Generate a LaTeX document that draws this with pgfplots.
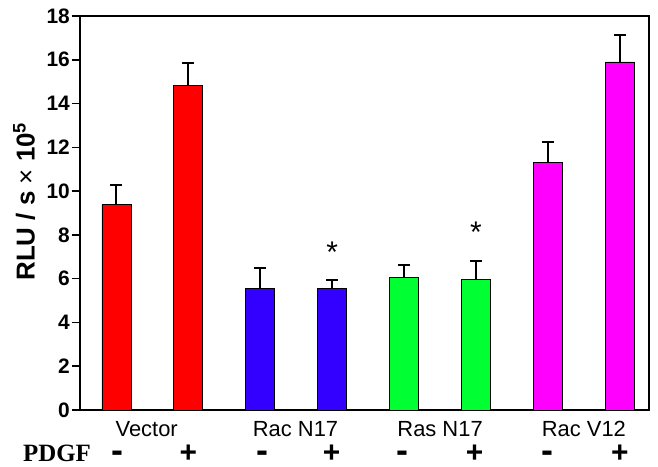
\documentclass[border=0pt]{standalone}
\usepackage{fontspec}
\setmainfont{Liberation Sans}
\newfontfamily\timesfont{Liberation Serif}
\usepackage{graphicx}
\usepackage{pgfplots}
\pgfplotsset{compat=1.18}
\definecolor{cred}{HTML}{FF0000}
\definecolor{cblue}{HTML}{3300FF}
\definecolor{cgreen}{HTML}{00FF33}
\definecolor{cmag}{HTML}{FF00FF}
\tikzset{plussign/.style={font=\bfseries\fontsize{20}{20}\selectfont, inner sep=0pt, yshift=-44bp},
         minussign/.style={font=\bfseries\fontsize{20}{20}\selectfont, inner sep=0pt, yshift=-47bp}}
\newcommand{\plussign}{\scalebox{1.5}{+}}
\newcommand{\minussign}{\scalebox{1.8}{-}}
\begin{document}
\begin{tikzpicture}
\path[use as bounding box] (-80bp,-57bp) rectangle (578bp,410bp);
\begin{axis}[
  scale only axis, width=569bp, height=394bp,
  xmin=-0.507, xmax=7.405, ymin=0, ymax=18,
  ytick={0,2,...,18},
  xtick={0.42,2.49,4.5,6.5},
  xticklabels={Vector, Rac N17, Ras N17, Rac V12},
  x tick style={draw=none},
  ytick pos=left,
  tick align=outside,
  major tick length=8bp,
  y tick style={line width=1.5bp, black},
  axis line style={line width=2bp},
  /pgf/number format/assume math mode=true,
  yticklabel style={font=\bfseries\fontsize{21}{21}\selectfont, inner sep=0pt, xshift=-2bp},
  xticklabel style={font=\fontsize{22}{22}\selectfont, inner sep=0pt, anchor=north, yshift=-3bp},
  ylabel={RLU / s \textmd{×} 10\textsuperscript{5}},
  every axis y label/.style={at={(axis description cs:-0.098,0.529)}, rotate=90, anchor=center, font=\bfseries\fontsize{26}{26}\selectfont},
  clip=false,
  ybar, bar width=29bp, bar shift=0pt,
  error bars/y dir=plus, error bars/y explicit,
  error bars/error bar style={line width=2bp, black},
  error bars/error mark options={rotate=90, mark size=6bp, line width=2bp, black},
]
\addplot[fill=cred, draw=black, line width=0.8bp] coordinates {(0,9.38) +- (0,0.91) (1,14.81) +- (0,1.02)};
\addplot[fill=cblue, draw=black, line width=0.8bp] coordinates {(2,5.57) +- (0,0.93) (3,5.57) +- (0,0.37)};
\addplot[fill=cgreen, draw=black, line width=0.8bp] coordinates {(4,6.06) +- (0,0.55) (5,5.95) +- (0,0.84)};
\addplot[fill=cmag, draw=black, line width=0.8bp] coordinates {(6,11.32) +- (0,0.93) (7,15.90) +- (0,1.25)};
\node[font=\fontsize{30}{30}\selectfont, anchor=base] at (axis cs:3,6.76) {*};
\node[font=\fontsize{30}{30}\selectfont, anchor=base] at (axis cs:5,7.67) {*};
\node[minussign] at (axis cs:0.02,0) {\minussign};
\node[minussign] at (axis cs:2.03,0) {\minussign};
\node[minussign] at (axis cs:3.98,0) {\minussign};
\node[minussign] at (axis cs:6.0,0) {\minussign};
\node[plussign] at (axis cs:1.0,0) {\plussign};
\node[plussign] at (axis cs:2.99,0) {\plussign};
\node[plussign] at (axis cs:4.98,0) {\plussign};
\node[plussign] at (axis cs:7.0,0) {\plussign};
\node[font=\timesfont\bfseries\fontsize{25}{25}\selectfont, anchor=base, xshift=-23bp, yshift=-51bp] at (rel axis cs:0,0) {PDGF};
\end{axis}
\end{tikzpicture}
\end{document}
